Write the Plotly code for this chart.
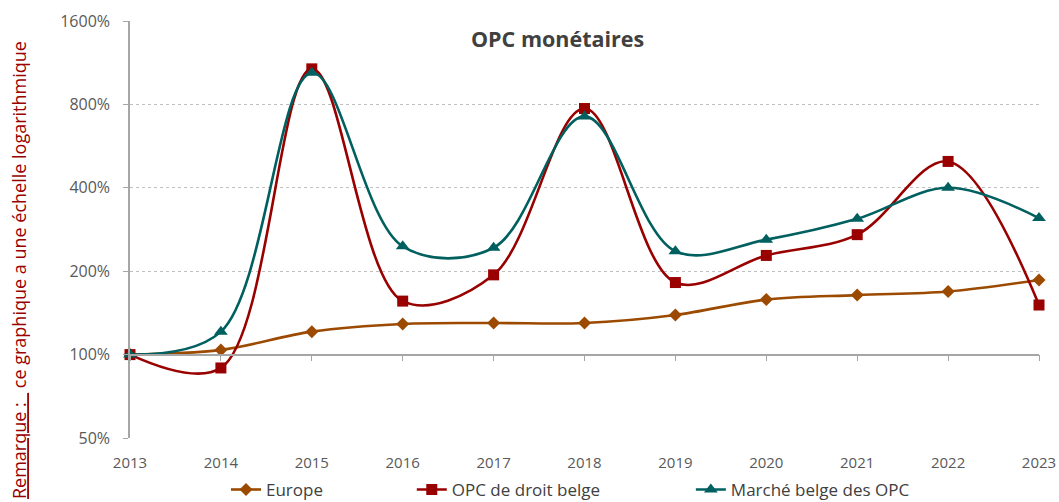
import plotly.graph_objects as go

years = [2013, 2014, 2015, 2016, 2017, 2018, 2019, 2020, 2021, 2022, 2023]

europe = [100, 104, 121, 129, 130, 130, 139, 158, 164, 169, 186]
opc_droit_belge = [100, 89.5, 1075, 156, 194, 773, 182, 228, 271, 498, 151]
marche_belge = [100, 121, 1040, 246, 243, 724, 236, 260, 309, 400, 311]

y_ticks = [50, 100, 200, 400, 800, 1600]
y_tick_labels = ["50%", "100%", "200%", "400%", "800%", "1600%"]

FONT = "Open Sans"
GRID = "#BFBFBF"
AXIS = "#A6A6A6"
TXT = "#595959"

series = [
    ("Europe", europe, "#9B4A00", "diamond", 10, "legend"),
    ("OPC de droit belge", opc_droit_belge, "#990000", "square", 11, "legend2"),
    ("Marché belge des OPC", marche_belge, "#005F5F", "triangle-up", 12, "legend3"),
]

fig = go.Figure()

# baseline axis drawn at the 100% level (invisible carrier trace)
fig.add_trace(go.Scatter(
    x=[years[0], years[-1]], y=[100, 100], xaxis="x2", mode="lines",
    line=dict(color="rgba(0,0,0,0)"), showlegend=False, hoverinfo="skip",
))

for name, vals, color, symbol, size, leg in series:
    fig.add_trace(go.Scatter(
        x=years, y=vals, name=name, mode="lines+markers",
        line=dict(color=color, width=2.6, shape="spline", smoothing=1.0),
        marker=dict(color=color, symbol=symbol, size=size),
        cliponaxis=False, legend=leg,
    ))

legend_common = dict(
    orientation="h", yanchor="middle", xanchor="left",
    xref="paper", yref="container", y=0.024,
    font=dict(family=FONT, size=17, color="#404040"),
    bgcolor="rgba(0,0,0,0)", itemwidth=30,
)

fig.update_layout(
    width=1059, height=502,
    margin=dict(l=130, r=20, t=21, b=64, autoexpand=False),
    paper_bgcolor="white", plot_bgcolor="white",
    font=dict(family=FONT, color=TXT),
    xaxis=dict(
        range=[years[0], years[-1]], tickvals=years, automargin=False,
        showgrid=False, zeroline=False, showline=False,
        ticks="outside", ticklen=11, tickcolor="rgba(0,0,0,0)",
        tickfont=dict(family=FONT, size=15, color=TXT),
    ),
    xaxis2=dict(
        overlaying="x", anchor="free", position=0.2, side="bottom",
        range=[years[0], years[-1]], tickvals=years, automargin=False,
        showgrid=False, zeroline=False, showline=True,
        linecolor=AXIS, linewidth=1.5,
        ticks="outside", ticklen=6, tickcolor=AXIS, tickwidth=1.2,
        showticklabels=False,
    ),
    yaxis=dict(
        type="log", range=[1.69897, 3.20412], automargin=False,
        tickvals=y_ticks, ticktext=y_tick_labels,
        showgrid=True, gridcolor=GRID, griddash="dot", gridwidth=1,
        showline=True, linecolor=AXIS, linewidth=1.5,
        ticks="outside", ticklen=5, tickcolor=AXIS, tickwidth=1.2,
        ticklabelstandoff=10,
        tickfont=dict(family=FONT, size=16, color=TXT),
        zeroline=False,
    ),
    legend=dict(x=0.1056, **legend_common),
    legend2=dict(x=0.310, **legend_common),
    legend3=dict(x=0.617, **legend_common),
    annotations=[
        dict(
            text="<b>OPC monétaires</b>", xref="paper", yref="paper",
            x=0.47, y=0.957, xanchor="center", yanchor="middle",
            showarrow=False, font=dict(family=FONT, size=21.5, color="#404040"),
        ),
        dict(
            text="<u>Remarque :&nbsp;&nbsp;</u> ce graphique a une échelle logarithmique",
            xref="paper", yref="paper", x=-0.122, y=0.957,
            xanchor="center", yanchor="top", textangle=-90,
            showarrow=False, font=dict(family=FONT, size=18, color="#990000"),
        ),
    ],
)

fig.write_html("out.html")
